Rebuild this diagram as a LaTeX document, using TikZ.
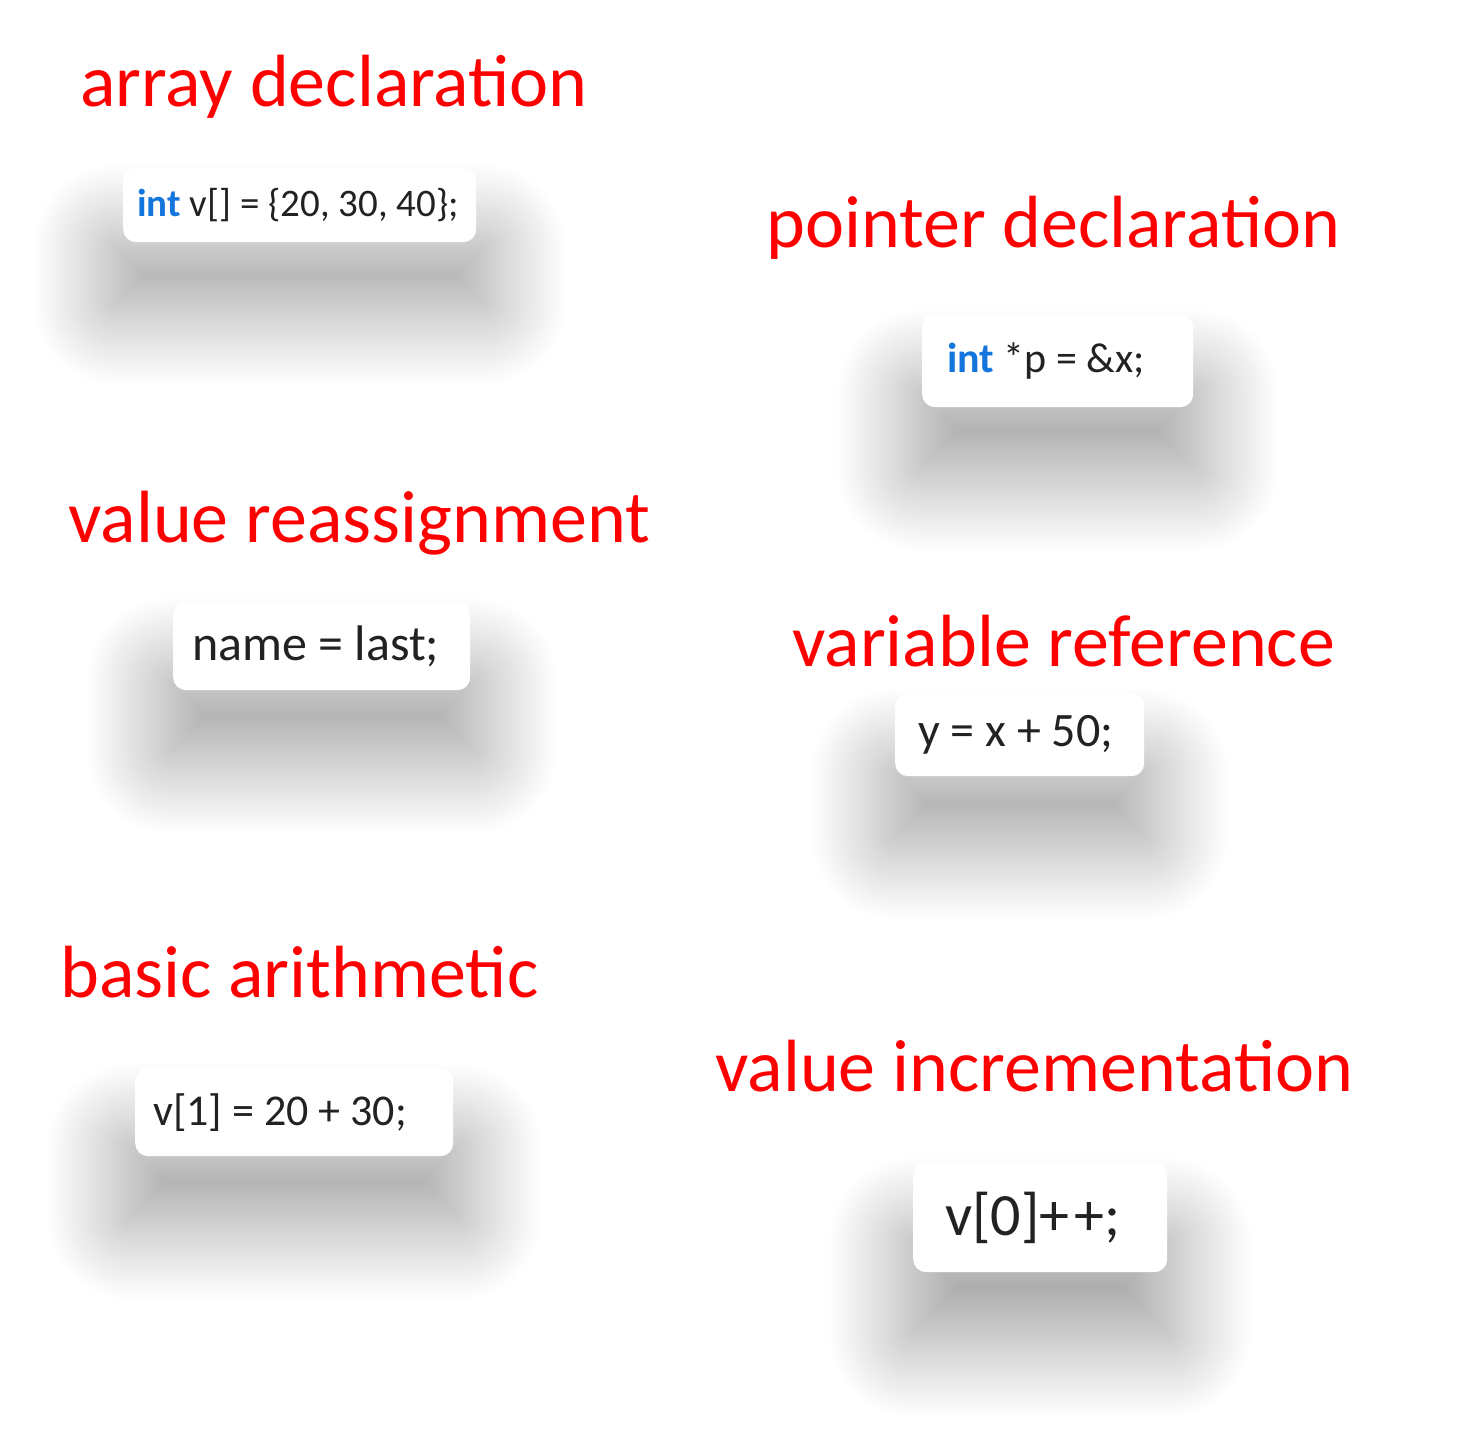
\documentclass[tikz,border=0pt]{standalone}
\usepackage{fontspec}
\setmainfont{Carlito}
\usepackage{tikz}
\usetikzlibrary{shadows.blur,positioning}
\usepackage{xcolor}
\definecolor{kwblue}{RGB}{20,118,220}
\definecolor{codegray}{RGB}{34,34,34}
\newcommand{\codefont}[1]{\fontsize{#1}{#1}\selectfont}
\newcommand{\code}[1]{{\spaceskip=0pt\xspaceskip=0pt\relax #1}}

\begin{document}
\begin{tikzpicture}[
  x=1pt,y=-1pt,
  title/.style={anchor=base west,text=red,inner sep=0pt,
                font=\fontsize{74}{80}\selectfont},
  codebox/.style={draw=none,fill=white,rounded corners=13pt,align=left,
                  anchor=north west,inner ysep=0pt,text=codegray,
                  blur shadow={shadow xshift=0pt,shadow yshift=-62pt,
                               shadow blur radius=62pt,shadow scale=1.12,
                               shadow blur steps=40,shadow opacity=34}}
]
  \useasboundingbox (0,0) rectangle (1471,1452);

  %% ---- left column ----
  \node[codebox,inner xsep=14pt,text width=325pt,minimum height=74pt,
        font=\codefont{39}] (arr) at (123,168)
    {\code{\textcolor{kwblue}{\textbf{int}} v[] = \{20, 30, 40\};}};
  \node[codebox,inner xsep=19pt,text width=259pt,minimum height=88pt,
        font=\codefont{50}] (reas) at (173,602)
    {\code{name = last;}};
  \node[codebox,inner xsep=18pt,text width=282pt,minimum height=88pt,
        font=\codefont{44}] (arith) at (135,1068)
    {\code{v[1] = 20 + 30;}};

  %% ---- right column ----
  \node[codebox,inner xsep=25pt,text width=221pt,minimum height=93pt,
        font=\codefont{42}] (ptr) at (922,314)
    {\code{\textcolor{kwblue}{\textbf{int}} *p = \&x;}};
  \node[codebox,inner xsep=23pt,text width=203pt,minimum height=83pt,
        font=\codefont{48}] (ref) at (895,693)
    {\code{y = x + 50;}};
  \node[codebox,inner xsep=32pt,text width=190pt,minimum height=109pt,
        font=\codefont{60}] (incr) at (913,1163)
    {\code{v[0]+\kern0.08em+;}};

  %% ---- labels ----
  \node[title] (tarr)   at (80,106)   {array declaration};
  \node[title] (tptr)   at (766,247)  {pointer declaration};
  \node[title] (treas)  at (68,542)   {value reassignment};
  \node[title] (tref)   at (792,666)  {variable reference};
  \node[title] (tarith) at (60,997)   {basic arithmetic};
  \node[title] (tincr)  at (715,1091) {value incrementation};
\end{tikzpicture}
\end{document}
